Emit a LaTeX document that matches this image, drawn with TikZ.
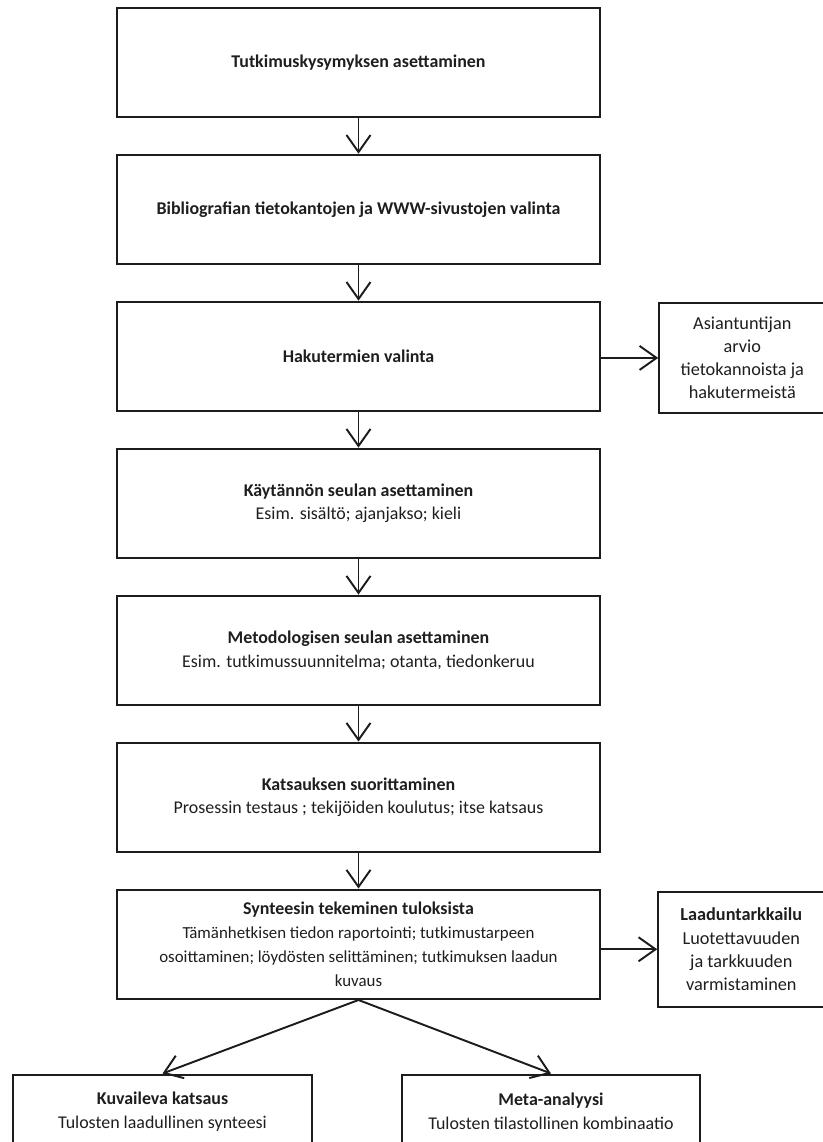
\documentclass[tikz,border=0pt]{standalone}
\usepackage{fontspec}
\setmainfont{Carlito}
\usetikzlibrary{arrows.meta,positioning}
\definecolor{colViiva}{RGB}{28,28,28}
\definecolor{colTeksti}{RGB}{30,30,30}
\newcommand{\pieni}{\fontsize{9.6}{12.6}\selectfont}

\begin{document}
\begin{tikzpicture}[font=\fontsize{10.2}{13.5}\selectfont, text=colTeksti,
    vaihe/.style={rectangle, draw=colViiva, line width=1.4pt, align=center,
      minimum width=9.66cm, minimum height=2.18cm, inner sep=3pt},
    sivu/.style={rectangle, draw=colViiva, line width=1.2pt, align=center,
      minimum width=3.32cm, inner sep=3pt,
      font=\fontsize{10.4}{13.2}\selectfont},
    tulos/.style={rectangle, draw=colViiva, line width=1.2pt, align=center,
      minimum width=5.97cm, minimum height=1.48cm, inner sep=3pt},
    fl/.style={-{Straight Barb[length=3.4mm,width=4.8mm]}, line width=1.1pt,
      colViiva}]
    \useasboundingbox (0,0) rectangle (16.44,-22.84);
    \node[vaihe] (kys) at (7.17,-1.25) {\textbf{Tutkimuskysymyksen asettaminen}};
    \node[vaihe, below=0.71cm of kys] (bib)
      {\textbf{Bibliografian tietokantojen ja WWW-sivustojen valinta}};
    \node[vaihe, below=0.71cm of bib] (hak) {\textbf{Hakutermien valinta}};
    \node[vaihe, below=0.71cm of hak] (kay)
      {\textbf{Käytännön seulan asettaminen}\\ Esim. sisältö; ajanjakso; kieli};
    \node[vaihe, below=0.71cm of kay] (met)
      {\textbf{Metodologisen seulan asettaminen}\\
       Esim. tutkimussuunnitelma; otanta, tiedonkeruu};
    \node[vaihe, below=0.71cm of met] (kat)
      {\textbf{Katsauksen suorittaminen}\\
       Prosessin testaus ; tekijöiden koulutus; itse katsaus};
    \node[vaihe, below=0.71cm of kat] (syn)
      {\textbf{Synteesin tekeminen tuloksista}\\
       {\pieni Tämänhetkisen tiedon raportointi; tutkimustarpeen}\\
       {\pieni osoittaminen; löydösten selittäminen; tutkimuksen laadun}\\
       {\pieni kuvaus}};
    \draw[fl] (kys)--(bib); \draw[fl] (bib)--(hak); \draw[fl] (hak)--(kay);
    \draw[fl] (kay)--(met); \draw[fl] (met)--(kat); \draw[fl] (kat)--(syn);
    % sivulaatikot
    \node[sivu, right=1.14cm of hak, minimum height=2.2cm, yshift=-0.03cm] (asi)
      {Asiantuntijan\\ arvio\\ tietokannoista ja\\ hakutermeistä};
    \node[sivu, right=1.12cm of syn, minimum height=2.3cm, yshift=-0.1cm] (laa)
      {\textbf{Laaduntarkkailu}\\ Luotettavuuden\\ ja tarkkuuden\\
       varmistaminen};
    \draw[fl] (hak.east |- asi.west)--(asi);
    \draw[fl] (syn.east |- laa.west)--(laa);
    % lopputulokset
    \node[tulos, below=1.47cm of syn, xshift=-3.92cm] (kuv)
      {\textbf{Kuvaileva katsaus}\\ Tulosten laadullinen synteesi};
    \node[tulos, below=1.47cm of syn, xshift=3.85cm] (mta)
      {\textbf{Meta-analyysi}\\ Tulosten tilastollinen kombinaatio};
    \draw[fl] (syn.south)--(kuv.north);
    \draw[fl] (syn.south)--(mta.north);
  \end{tikzpicture}
\end{document}
